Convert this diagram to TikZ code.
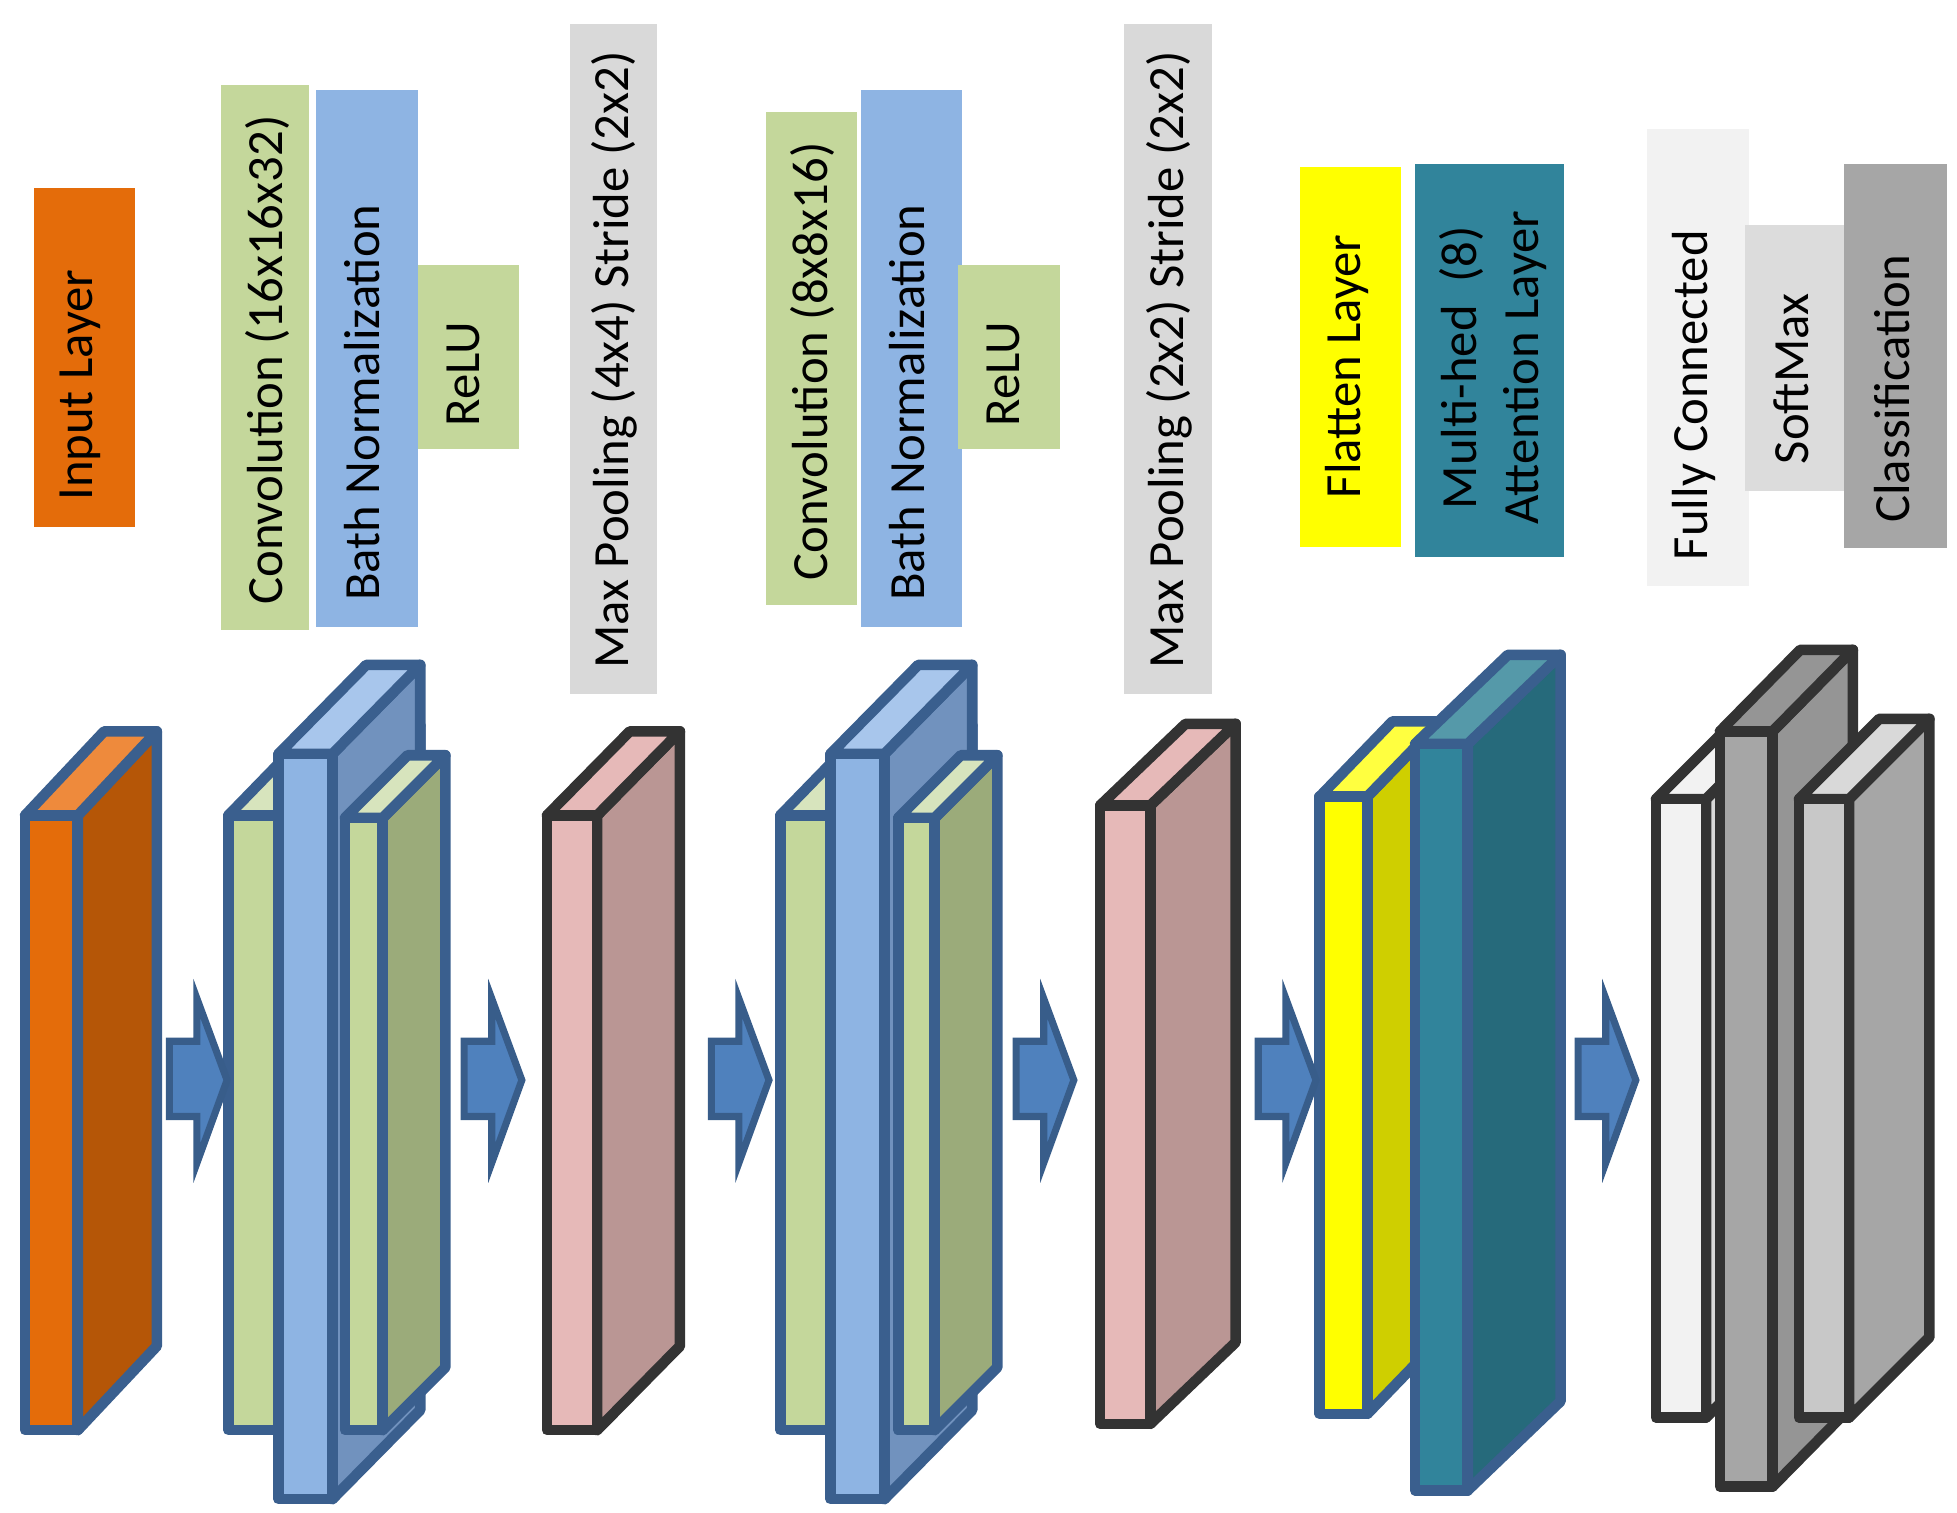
\documentclass[tikz,border=0pt]{standalone}
\usepackage{fontspec}
\setmainfont{Carlito}
\begin{document}
\begin{tikzpicture}[x=0.01cm,y=-0.01cm,line join=round]
\definecolor{arrowc}{HTML}{4F81BD}\definecolor{arrowb}{HTML}{385D8A}
\definecolor{bb}{HTML}{3A5F8E}\definecolor{dk}{HTML}{333333}
\definecolor{orF}{HTML}{E46C0A}\definecolor{orT}{HTML}{EE8A3C}\definecolor{orS}{HTML}{B55607}
\definecolor{grF}{HTML}{C4D79B}\definecolor{grT}{HTML}{D7E4BD}\definecolor{grS}{HTML}{9BAB7A}
\definecolor{blF}{HTML}{8EB4E3}\definecolor{blT}{HTML}{A8C6EC}\definecolor{blS}{HTML}{7192BE}
\definecolor{pkF}{HTML}{E6B9B8}\definecolor{pkS}{HTML}{BA9694}
\definecolor{yeF}{HTML}{FFFF00}\definecolor{yeT}{HTML}{FFFF40}\definecolor{yeS}{HTML}{CFCF00}
\definecolor{tlF}{HTML}{31849B}\definecolor{tlT}{HTML}{5599A9}\definecolor{tlS}{HTML}{266A7B}
\definecolor{whF}{HTML}{F2F2F2}\definecolor{whS}{HTML}{D9D9D9}
\definecolor{gyF}{HTML}{A6A6A6}\definecolor{gyS}{HTML}{959595}
\definecolor{lgF}{HTML}{C8C8C8}\definecolor{lgS}{HTML}{A6A6A6}
\definecolor{lbGray}{HTML}{D9D9D9}\definecolor{lbSoft}{HTML}{DCDCDC}
\tikzset{lbl/.style={rotate=90,font=\fontsize{11.5}{14}\selectfont,align=center,inner sep=0pt},
 barrow/.style={fill=arrowc,draw=arrowb,line width=1.6pt,line join=miter},
 face/.style={line width=2.4pt}}
\useasboundingbox (0,0) rectangle (1560,1206);
% \slab{x1}{y1}{x2}{y2}{dx}{dy}{front}{top}{side}  border colour: bdc
\newcommand{\slab}[9]{%
 \filldraw[face,fill=#9,draw=bdc] (#3,#2)--(#3+#5,#2-#6)--(#3+#5,#4-#6)--(#3,#4)--cycle;
 \filldraw[face,fill=#8,draw=bdc] (#1,#2)--(#1+#5,#2-#6)--(#3+#5,#2-#6)--(#3,#2)--cycle;
 \filldraw[face,fill=#7,draw=bdc] (#1,#2) rectangle (#3,#4);}
\newcommand{\blockarrow}[1]{%
 \filldraw[barrow] (#1,830)--(#1+22,830)--(#1+22,796)--(#1+46,861)--(#1+22,927)--(#1+22,890)--(#1,890)--cycle;}
% ---- labels
\fill[orF] (27,150) rectangle (108,420); \node[lbl] (l1) at (64,307) {Input Layer};
\fill[grF] (176,68) rectangle (246,502); \node[lbl] (l2) at (213,287) {Convolution (16x16x32)};
\fill[blF] (252,72) rectangle (333,500); \node[lbl] (l3) at (289,321) {Bath Normalization};
\fill[grF] (333,211) rectangle (414,358); \node[lbl] (l4) at (369,298) {ReLU};
\fill[lbGray] (454,19) rectangle (524,553); \node[lbl] (l5) at (490,287) {Max Pooling (4x4) Stride (2x2)};
\fill[grF] (611,89) rectangle (683,482); \node[lbl] (l6) at (648,288) {Convolution (8x8x16)};
\fill[blF] (686,72) rectangle (767,500); \node[lbl] (l7) at (723,321) {Bath Normalization};
\fill[grF] (764,211) rectangle (845,358); \node[lbl] (l8) at (800,298) {ReLU};
\fill[lbGray] (896,19) rectangle (966,553); \node[lbl] (l9) at (932,287) {Max Pooling (2x2) Stride (2x2)};
\fill[yeF] (1036,133) rectangle (1117,436); \node[lbl] (l10) at (1074,292) {Flatten Layer};
\fill[tlF] (1128,131) rectangle (1247,444); \node[lbl] (l11) at (1190,293) {Multi-hed\ \ (8)\\Attention Layer};
\fill[whF] (1313,103) rectangle (1394,467); \node[lbl] (l12) at (1350,315) {Fully Connected};
\fill[lbSoft] (1391,179) rectangle (1470,391); \node[lbl] (l13) at (1428,302) {SoftMax};
\fill[gyF] (1470,131) rectangle (1552,437); \node[lbl] (l14) at (1508,310) {Classification};
% ---- slabs
\colorlet{bdc}{bb}
\slab{20}{650}{62}{1140}{63}{67}{orF}{orT}{orS}
\slab{182}{650}{265}{1140}{70}{72}{grF}{grT}{grS}
\slab{222}{601}{265}{1195}{70}{71}{blF}{blT}{blS}
\slab{275}{652}{305}{1140}{50}{50}{grF}{grT}{grS}
\colorlet{bdc}{dk}
\slab{436}{650}{476}{1140}{66}{67}{pkF}{pkF}{pkS}
\colorlet{bdc}{bb}
\slab{622}{650}{705}{1140}{70}{72}{grF}{grT}{grS}
\slab{662}{601}{705}{1195}{70}{71}{blF}{blT}{blS}
\slab{716}{652}{745}{1140}{50}{50}{grF}{grT}{grS}
\colorlet{bdc}{dk}
\slab{877}{642}{917}{1135}{68}{65}{pkF}{pkF}{pkS}
\colorlet{bdc}{bb}
\slab{1052}{635}{1090}{1127}{58}{60}{yeF}{yeT}{yeS}
\slab{1128}{593}{1170}{1188}{74}{71}{tlF}{tlT}{tlS}
\colorlet{bdc}{dk}
\slab{1320}{637}{1360}{1130}{62}{62}{whF}{whF}{whS}
\slab{1371}{583}{1413}{1185}{64}{65}{gyF}{gyS}{gyS}
\slab{1434}{637}{1474}{1130}{64}{64}{lgF}{whS}{lgS}
% ---- arrows
\blockarrow{135}\blockarrow{370}\blockarrow{567}\blockarrow{810}\blockarrow{1003}\blockarrow{1258}
\end{tikzpicture}
\end{document}
